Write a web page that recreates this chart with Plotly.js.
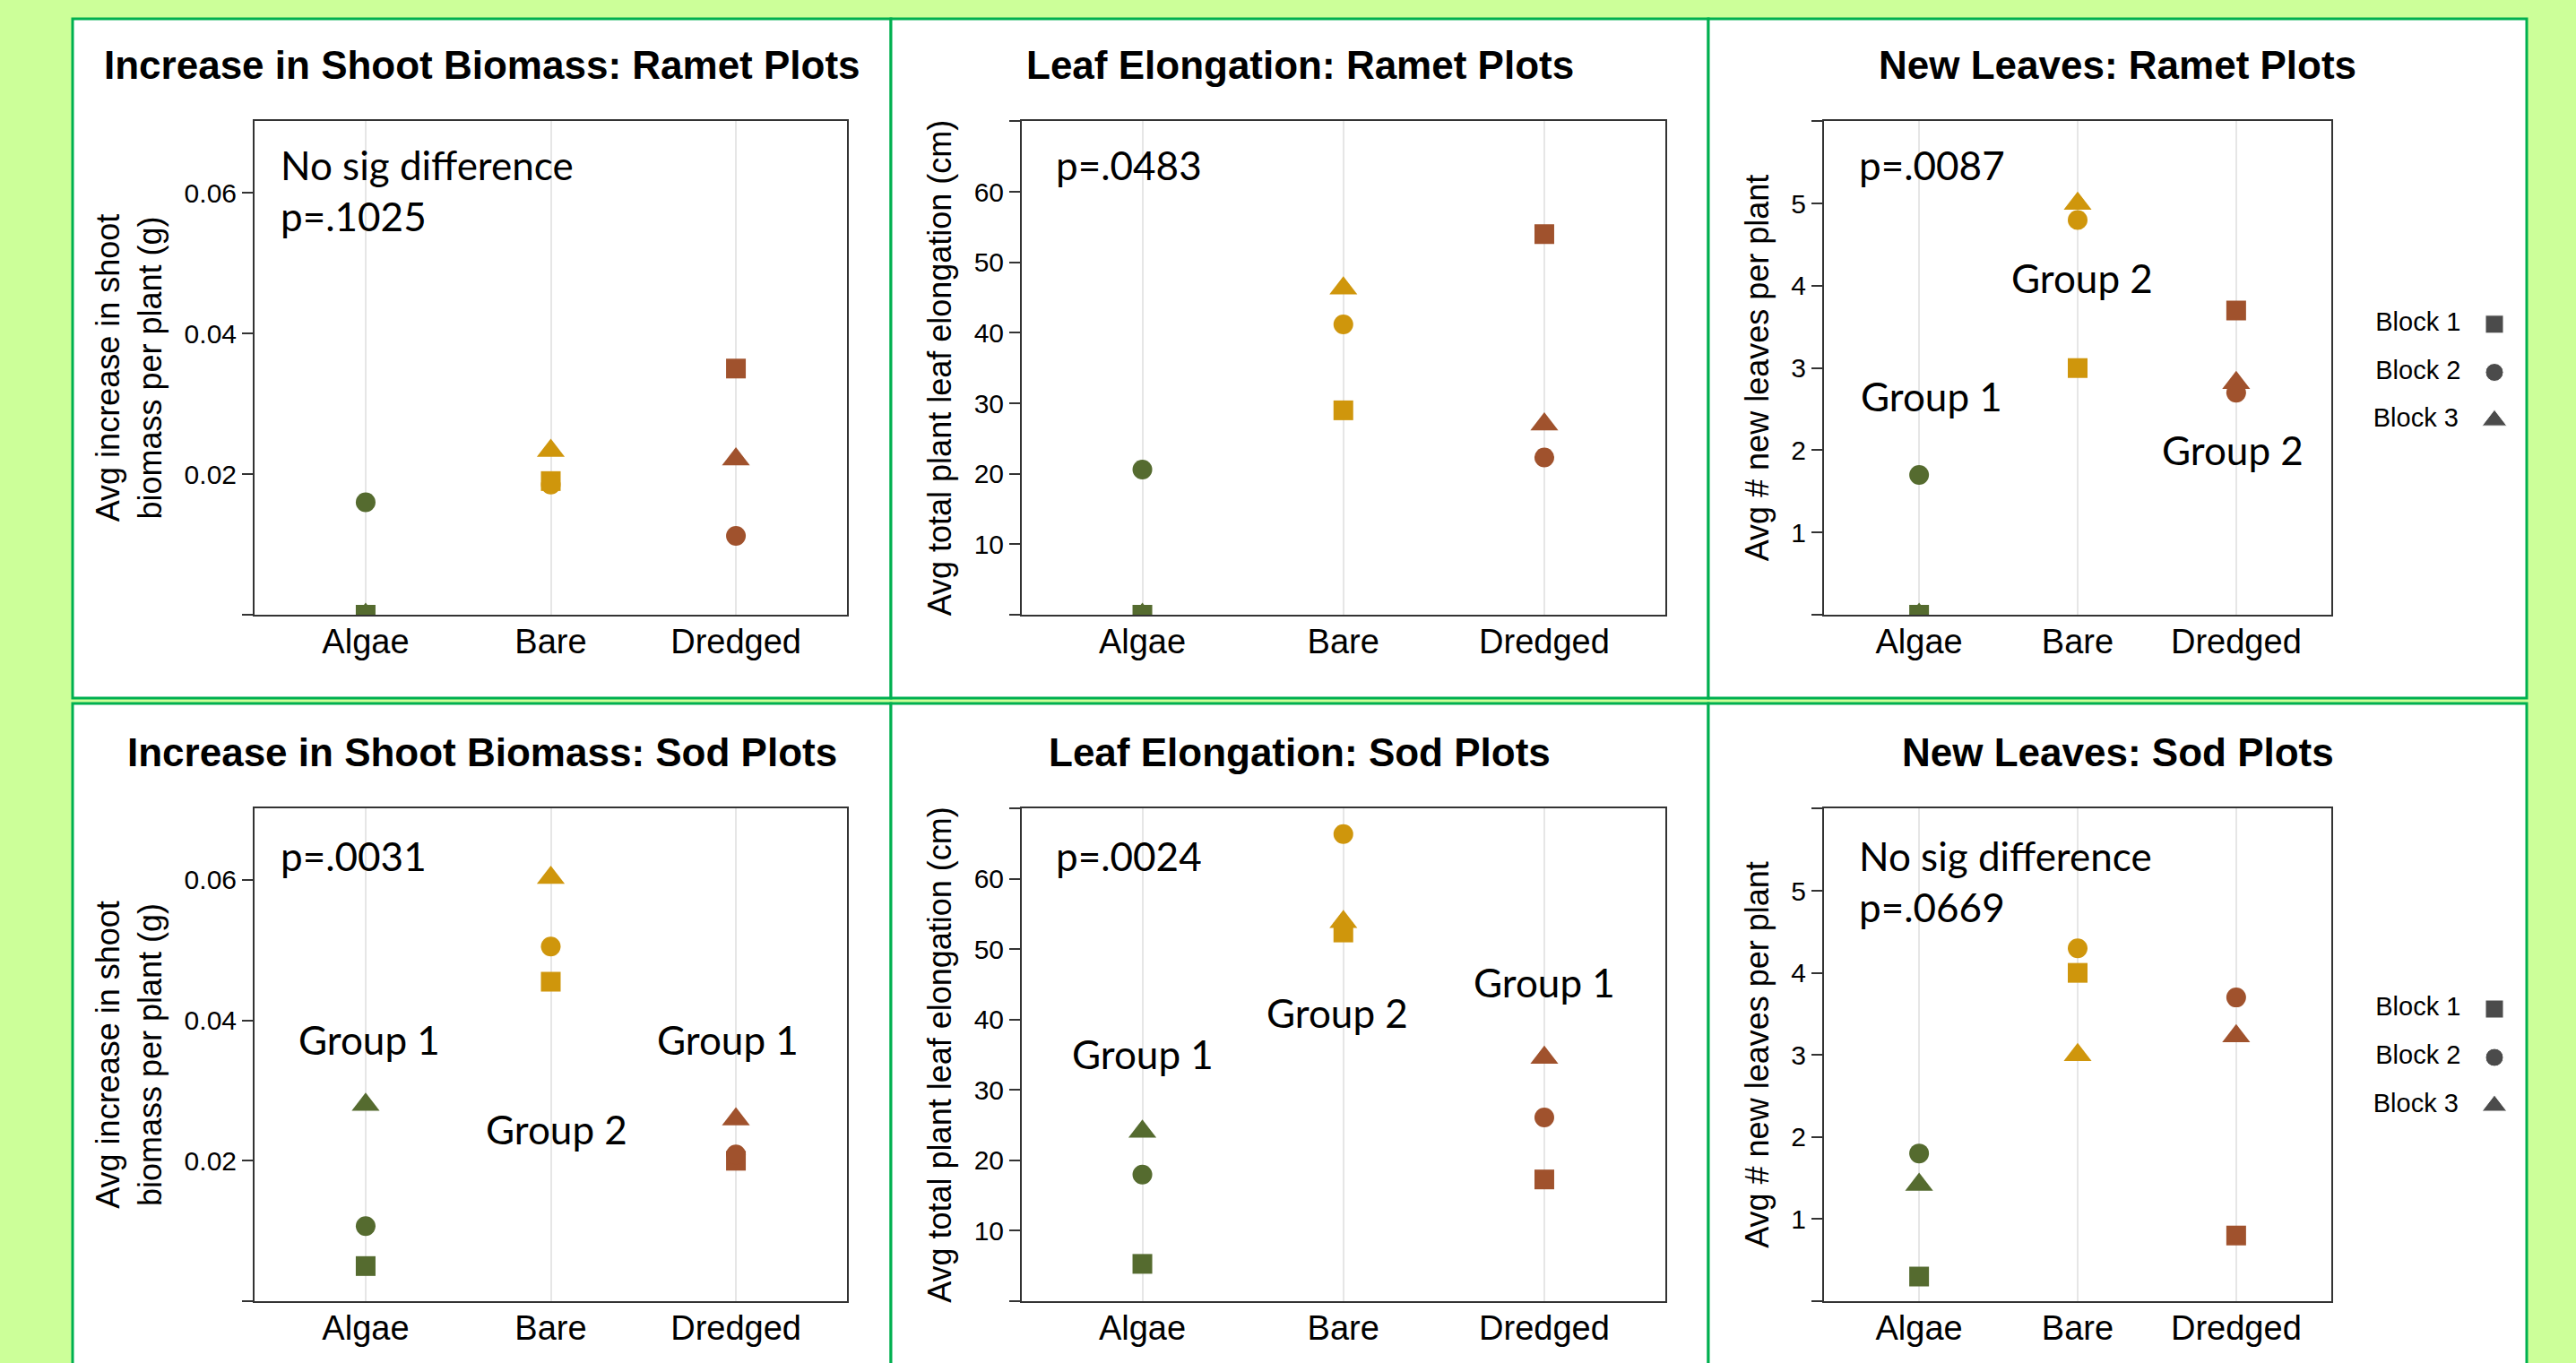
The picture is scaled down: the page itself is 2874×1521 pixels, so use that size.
<!DOCTYPE html>
<html>
<head>
<meta charset="utf-8">
<script src="https://cdn.plot.ly/plotly-3.0.1.min.js"></script>
<style>html,body{margin:0;padding:0;background:#CCFF99;overflow:hidden}</style>
</head>
<body>
<div id="chart" style="width:2874px;height:1521px"></div>
<script>
// ---------------- DATA ----------------
const categories = ['Algae', 'Bare', 'Dredged'];
const blockNames = ['Block 1', 'Block 2', 'Block 3'];

const panelTitles = [
  'Increase in Shoot Biomass: Ramet Plots',
  'Leaf Elongation: Ramet Plots',
  'New Leaves: Ramet Plots',
  'Increase in Shoot Biomass: Sod Plots',
  'Leaf Elongation: Sod Plots',
  'New Leaves: Sod Plots'
];
const yTitles = [
  'Avg increase in shoot<br>biomass per plant (g)',
  'Avg total plant leaf elongation (cm)',
  'Avg # new leaves per plant',
  'Avg increase in shoot<br>biomass per plant (g)',
  'Avg total plant leaf elongation (cm)',
  'Avg # new leaves per plant'
];

// values per block, ordered Algae, Bare, Dredged
const shootRametBlock1 = [0.000, 0.0190, 0.0350];
const shootRametBlock2 = [0.0160, 0.0185, 0.0112];
const shootRametBlock3 = [0.000, 0.0233, 0.0221];

const leafRametBlock1 = [0.0, 29.0, 54.0];
const leafRametBlock2 = [20.6, 41.2, 22.3];
const leafRametBlock3 = [0.0, 46.3, 27.0];

const leavesRametBlock1 = [0.0, 3.0, 3.7];
const leavesRametBlock2 = [1.7, 4.8, 2.7];
const leavesRametBlock3 = [0.0, 5.0, 2.82];

const shootSodBlock1 = [0.0050, 0.0455, 0.0200];
const shootSodBlock2 = [0.0107, 0.0505, 0.0209];
const shootSodBlock3 = [0.0280, 0.0603, 0.0259];

const leafSodBlock1 = [5.3, 52.4, 17.3];
const leafSodBlock2 = [18.0, 66.4, 26.1];
const leafSodBlock3 = [24.1, 53.9, 34.6];

const leavesSodBlock1 = [0.3, 4.0, 0.8];
const leavesSodBlock2 = [1.8, 4.3, 3.7];
const leavesSodBlock3 = [1.42, 3.0, 3.23];

const pTexts = [
  'No sig difference<br>p=.1025',
  'p=.0483',
  'p=.0087',
  'p=.0031',
  'p=.0024',
  'No sig difference<br>p=.0669'
];
const groupLabels = [
  [],
  [],
  ['Group 1', 'Group 2', 'Group 2'],
  ['Group 1', 'Group 2', 'Group 1'],
  ['Group 1', 'Group 2', 'Group 1'],
  []
];
// group label anchors: category and y value
const groupLabelCat = [[], [], ['Algae', 'Bare', 'Dredged'], ['Algae', 'Bare', 'Dredged'], ['Algae', 'Bare', 'Dredged'], []];
const groupLabelY = [[], [], [2.62, 4.05, 1.96], [0.0367, 0.0240, 0.0367], [34.6, 40.5, 44.8], []];

// ---------------- STYLE ----------------
const groupLabelShift = [[], [], [14, 5, -4], [4, 6, -9], [0, -7, 0], []];

const W = 2874, H = 1521;
const px2x = p => p / W;
const px2y = p => 1 - p / H;

const categoryColors = ['#556B2F', '#CF960C', '#A0522D'];
const blockSymbols = ['square', 'circle', 'triangle-up'];
const blockSizes = [22, 22, 27];

const panelData = [
  [shootRametBlock1, shootRametBlock2, shootRametBlock3],
  [leafRametBlock1, leafRametBlock2, leafRametBlock3],
  [leavesRametBlock1, leavesRametBlock2, leavesRametBlock3],
  [shootSodBlock1, shootSodBlock2, shootSodBlock3],
  [leafSodBlock1, leafSodBlock2, leafSodBlock3],
  [leavesSodBlock1, leavesSodBlock2, leavesSodBlock3]
];

const yAxisSpec = [
  {range: [0, 0.0702], vals: [0, 0.02, 0.04, 0.06], text: ['', '0.02', '0.04', '0.06']},
  {range: [0, 70.05], vals: [0, 10, 20, 30, 40, 50, 60, 70], text: ['', '10', '20', '30', '40', '50', '60', '']},
  {range: [0, 6.005], vals: [0, 1, 2, 3, 4, 5, 6], text: ['', '1', '2', '3', '4', '5', '']}
];

const colPx = [[284, 945], [1140, 1857.5], [2035, 2601]];
const rowPx = [[135, 686], [902, 1452]];
const panelFramePx = [[81, 994], [994, 1906], [1906, 2819]];
const rowFramePx = [[21, 779], [785, 1545]];
const titleYPx = [73, 839];
const pTextTopPx = [21, 25];
const pTextLeftPx = [311, 1176, 2072];
const legendRowsPx = [[335, 496], [1099, 1261]];

const layout = {
  width: W, height: H,
  margin: {l: 0, r: 0, t: 0, b: 0},
  paper_bgcolor: '#CCFF99',
  plot_bgcolor: 'rgba(0,0,0,0)',
  showlegend: false,
  font: {family: 'Liberation Sans, Arial, sans-serif', color: '#000'},
  shapes: [],
  annotations: []
};
const traces = [];

for (let p = 0; p < 6; p++) {
  const row = Math.floor(p / 3), col = p % 3;
  const n = p + 1;
  const xa = 'xaxis' + (n === 1 ? '' : n);
  const ya = 'yaxis' + (n === 1 ? '' : n);
  const xr = 'x' + (n === 1 ? '' : n);
  const yr = 'y' + (n === 1 ? '' : n);
  const spec = yAxisSpec[col];

  // panel frame
  layout.shapes.push({
    type: 'rect', xref: 'paper', yref: 'paper', layer: 'below',
    x0: px2x(panelFramePx[col][0]), x1: px2x(panelFramePx[col][1]),
    y0: px2y(rowFramePx[row][1]), y1: px2y(rowFramePx[row][0]),
    fillcolor: '#FFFFFF', line: {color: '#00B050', width: 3}
  });

  layout[xa] = {
    domain: [px2x(colPx[col][0]), px2x(colPx[col][1])],
    anchor: yr, type: 'category', categoryorder: 'array', categoryarray: categories,
    range: [-0.6, 2.6], fixedrange: true,
    showline: true, mirror: true, linecolor: '#333', linewidth: 2,
    ticks: '', showgrid: true, gridcolor: '#E6E6E6', gridwidth: 2,
    tickfont: {size: 38, color: '#000'}, ticklabelstandoff: -5,
    zeroline: false
  };
  layout[ya] = {
    domain: [px2y(rowPx[row][1]), px2y(rowPx[row][0])],
    anchor: xr, range: spec.range, fixedrange: true,
    tickmode: 'array', tickvals: spec.vals, ticktext: spec.text,
    showline: true, mirror: true, linecolor: '#333', linewidth: 2,
    ticks: 'outside', ticklen: 12, tickwidth: 2, tickcolor: '#333',
    tickfont: {size: 30, color: '#000'},
    showgrid: false, zeroline: false,
    title: {text: yTitles[p], font: {size: 36, color: '#000'}, standoff: 14}
  };

  for (let b = 0; b < 3; b++) {
    traces.push({
      type: 'scatter', mode: 'markers',
      x: categories, y: panelData[p][b],
      xaxis: xr, yaxis: yr, name: blockNames[b],
      cliponaxis: true, hoverinfo: 'x+y+name',
      marker: {symbol: blockSymbols[b], size: blockSizes[b], color: categoryColors, line: {width: 0}}
    });
  }

  // panel title
  layout.annotations.push({
    xref: 'paper', yref: 'paper', x: px2x((panelFramePx[col][0] + panelFramePx[col][1]) / 2),
    y: px2y(titleYPx[row]), xanchor: 'center', yanchor: 'middle', showarrow: false,
    text: '<b>' + panelTitles[p] + '</b>',
    font: {family: 'Liberation Sans, Arial, sans-serif', size: 44, color: '#000'}
  });
  // p-value text
  layout.annotations.push({
    xref: xr + ' domain', yref: yr + ' domain',
    x: (pTextLeftPx[col] - colPx[col][0]) / (colPx[col][1] - colPx[col][0]),
    y: 1 - pTextTopPx[row] / (rowPx[row][1] - rowPx[row][0]),
    xanchor: 'left', yanchor: 'top', align: 'left', showarrow: false,
    text: pTexts[p],
    font: {family: 'Lato, sans-serif', size: 44, color: '#000'}
  });
  // group labels
  for (let g = 0; g < groupLabels[p].length; g++) {
    layout.annotations.push({
      xref: xr, yref: yr, x: groupLabelCat[p][g], y: groupLabelY[p][g],
      xshift: groupLabelShift[p][g], yshift: 4,
      xanchor: 'center', yanchor: 'middle', showarrow: false,
      text: groupLabels[p][g],
      font: {family: 'Lato, sans-serif', size: 44, color: '#000'}
    });
  }
}

// legends (one per row), drawn on hidden axes
for (let r = 0; r < 2; r++) {
  const n = 7 + r;
  layout['xaxis' + n] = {domain: [px2x(2733), px2x(2833)], range: [-1, 1], visible: false, fixedrange: true, anchor: 'y' + n};
  layout['yaxis' + n] = {domain: [px2y(legendRowsPx[r][1]), px2y(legendRowsPx[r][0])], range: [0.5, 3.5], visible: false, fixedrange: true, anchor: 'x' + n};
  traces.push({
    type: 'scatter', mode: 'markers+text',
    x: [0, 0, 0], y: [3, 2, 1],
    text: blockNames.map(s => s + '\u00a0\u00a0\u00a0'),
    textposition: 'middle left',
    textfont: {family: 'Liberation Sans, Arial, sans-serif', size: 29, color: '#000'},
    xaxis: 'x' + n, yaxis: 'y' + n, hoverinfo: 'skip', cliponaxis: false,
    marker: {symbol: blockSymbols, size: [20, 20, 24], color: '#000'}
  });
}

Plotly.newPlot('chart', traces, layout, {staticPlot: true, displayModeBar: false});
</script>
</body>
</html>
